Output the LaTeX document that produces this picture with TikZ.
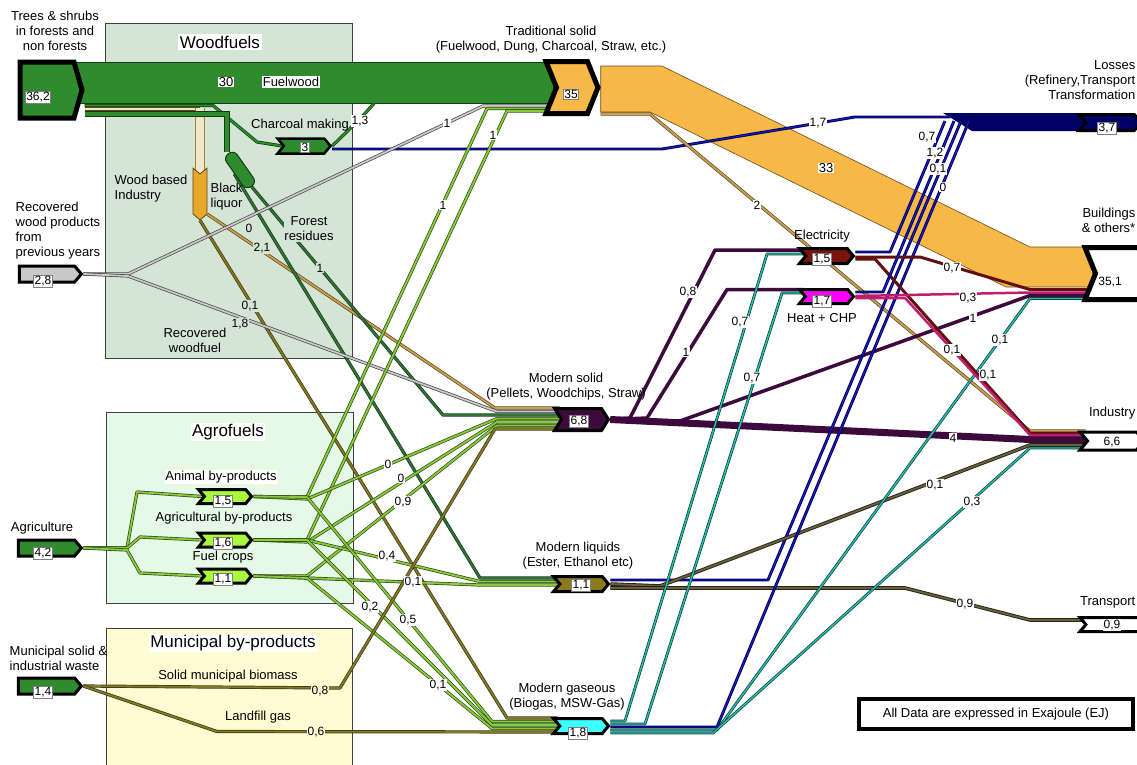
\documentclass[tikz,border=0pt]{standalone}
\usepackage{fontspec}
\setmainfont{Liberation Sans}
\usetikzlibrary{shapes.symbols,calc}
\pgfdeclarelayer{boxes}
\pgfdeclarelayer{flows}
\pgfsetlayers{boxes,flows,main}
\definecolor{cWood}{RGB}{213,229,213}
\definecolor{cAgro}{RGB}{230,248,230}
\definecolor{cMuni}{RGB}{255,252,212}
\definecolor{cFw}{RGB}{46,139,46}
\definecolor{cFwD}{RGB}{15,60,15}
\definecolor{cOrng}{RGB}{248,184,72}
\definecolor{cOrngD}{RGB}{110,75,25}
\definecolor{cLime}{RGB}{140,200,60}
\definecolor{cLimeD}{RGB}{40,80,20}
\definecolor{cLimeB}{RGB}{170,250,60}
\definecolor{cTan}{RGB}{200,160,80}
\definecolor{cTanD}{RGB}{90,70,30}
\definecolor{cTanL}{RGB}{240,232,200}
\definecolor{cWoodInd}{RGB}{232,168,40}
\definecolor{cGry}{RGB}{200,200,200}
\definecolor{cGryD}{RGB}{70,70,70}
\definecolor{cDkG}{RGB}{50,115,55}
\definecolor{cDkGD}{RGB}{20,55,25}
\definecolor{cOlv}{RGB}{130,120,40}
\definecolor{cOlvD}{RGB}{60,55,15}
\definecolor{cLiq}{RGB}{105,95,65}
\definecolor{cLiqD}{RGB}{40,35,20}
\definecolor{cLiqN}{RGB}{140,120,30}
\definecolor{cPurp}{RGB}{60,10,60}
\definecolor{cNavy}{RGB}{0,0,100}
\definecolor{cBlue}{RGB}{30,30,190}
\definecolor{cTeal}{RGB}{40,190,170}
\definecolor{cTealD}{RGB}{10,60,60}
\definecolor{cRed}{RGB}{100,15,15}
\definecolor{cElec}{RGB}{120,20,10}
\definecolor{cMag}{RGB}{190,30,110}
\definecolor{cHeat}{RGB}{255,0,255}
\definecolor{cCyan}{RGB}{60,255,255}
\newcommand\fsL{\fontsize{13}{15}\selectfont}
\newcommand\fsV{\fontsize{12}{13}\selectfont}
\newcommand\fsT{\fontsize{17}{19}\selectfont}
\tikzset{
  grpbox/.style={draw=black!75, line width=0.8pt, inner sep=0pt},
  grptitle/.style={fill=white, inner sep=1.5pt, font=\fsT},
  chev/.style={signal, signal to=east, signal from=west, signal pointer angle=100, draw=black, line width=3pt, inner sep=0pt},
  val/.style={fill=white, inner sep=0.8pt, font=\fsV},
  nval/.style={fill=white, draw=black!50, line width=0.4pt, inner sep=1pt, font=\fsV},
  lbl/.style={inner sep=0.5pt, align=center, font=\fsL},
  dbl/.style 2 args={draw=#2, double=#1, double distance=1.8pt, line width=0.7pt, line join=round},
  bl/.style={draw=cNavy, double=cBlue, double distance=0.9pt, line width=1pt, line join=round},
  tl/.style={draw=cTealD, double=cTeal, double distance=1.4pt, line width=0.7pt, line join=round},
  pl/.style={draw=cPurp, line width=3.5pt, line join=round},
  rl/.style={draw=cRed, line width=3pt, line join=round},
  ml/.style={draw=cMag, line width=2.5pt, line join=round},
}
\begin{document}
\begin{tikzpicture}[x=1pt,y=-1pt]
\useasboundingbox (0,0) rectangle (1137,764);
\begin{pgfonlayer}{boxes}
\fill[white] (0,0) rectangle (1137,764);
\node[grpbox, fill=cWood, minimum width=247, minimum height=335] (woodbox) at (228.5,190.5) {};
\node[grpbox, fill=cAgro, minimum width=247, minimum height=191] (agrobox) at (229.5,507.5) {};
\node[grpbox, fill=cMuni, minimum width=246, minimum height=150] (munibox) at (229,703) {};
\end{pgfonlayer}

% ---------- nodes ----------
\node[chev, signal from=nowhere, signal pointer angle=148, line width=5pt, fill=cFw, minimum width=62, minimum height=56] (trees) at (47,90) {};
\node[chev, signal pointer angle=136, line width=5pt, fill=cOrng, minimum width=52, minimum height=52] (trad) at (572,87.5) {};
\node[chev, line width=2.5pt, fill=cFw, minimum width=53, minimum height=15] (char) at (304,146) {};
\node[chev, signal from=nowhere, fill=cGry, minimum width=62, minimum height=16] (recw) at (47,274) {};
\node[signal, signal to=south, signal from=north, signal pointer angle=100, draw=cTanD, line width=0.8pt, fill=cWoodInd, minimum width=14, minimum height=40, inner sep=0pt] (wind) at (200,194) {};
\node[draw=cFwD, fill=cFw, line width=1pt, rounded corners=6pt, minimum width=40, minimum height=13, inner sep=0pt, rotate=-55] (bliq) at (240,170) {};
\node[chev, signal from=nowhere, fill=cFw, minimum width=63, minimum height=16] (agr) at (46.5,548) {};
\node[chev, signal from=nowhere, fill=cFw, minimum width=63, minimum height=16] (mun) at (46.5,686) {};
\node[chev, fill=cLimeB, minimum width=53, minimum height=14] (anim) at (225,496.5) {};
\node[chev, fill=cLimeB, minimum width=53, minimum height=14] (agbp) at (225,540) {};
\node[chev, fill=cLimeB, minimum width=53, minimum height=14] (fcrop) at (225,576) {};
\node[chev, signal pointer angle=115, fill=cPurp, minimum width=54, minimum height=22] (msol) at (581.5,419.5) {};
\node[chev, fill=cLiqN, minimum width=55, minimum height=15] (mliq) at (581,584) {};
\node[chev, fill=cCyan, minimum width=55, minimum height=15] (mgas) at (581,726) {};
\node[chev, fill=cElec, minimum width=54, minimum height=15] (elec) at (826.5,256) {};
\node[chev, fill=cHeat, minimum width=54, minimum height=14] (heat) at (826.5,296.5) {};
\node[chev, fill=cNavy, minimum width=62, minimum height=16] (loss) at (1110,122.5) {};
\node[chev, signal pointer angle=136, line width=5pt, fill=white, minimum width=64, minimum height=52] (bld) at (1117,273.5) {};
\node[chev, fill=white, minimum width=64, minimum height=18] (ind) at (1112,441) {};
\node[chev, fill=white, minimum width=64, minimum height=14] (trans) at (1112,624.5) {};

% node values
\node[nval] (v1) at (38,97) {36,2};
\node[nval] (v2) at (571,94) {35};
\node[nval] (v3) at (305,147) {3};
\node[nval] (v4) at (43,281) {2,8};
\node[nval] (v5) at (43,553) {4,2};
\node[nval] (v6) at (43,692) {1,4};
\node[nval] (v7) at (223,501) {1,5};
\node[nval] (v8) at (223,543) {1,6};
\node[nval] (v9) at (223,579) {1,1};
\node[nval] (v10) at (579,421) {6,8};
\node[nval] (v11) at (581,585) {1,1};
\node[nval] (v12) at (578,733) {1,8};
\node[nval] (v13) at (822,259) {1,5};
\node[nval] (v14) at (822,301) {1,7};
\node[nval] (v15) at (1107,128) {3,7};
\node[val, fill=none] (v16) at (1110,282) {35,1};
\node[val] (v17) at (1112,442) {6,6};
\node[val] (v18) at (1112,625) {0,9};

% ---------- flows ----------
\begin{pgfonlayer}{flows}
% fuelwood band
\filldraw[fill=cFw, draw=cFwD, line width=0.8pt] (trees.north east |- 0,62) -- (trad.west |- 0,62) -- (trad.west |- 0,103) -- (trees.north east |- 0,103) -- cycle;
% orange band to buildings
\filldraw[fill=cOrng, draw=cOrngD, line width=0.6pt] (trad.east |- 0,66) -- (662,66) -- (1030,247) -- (bld.west |- 0,247) -- (bld.west |- 0,287) -- (1006,287) -- (650,112) -- (trad.east |- 0,112) -- cycle;
% losses band
\fill[cNavy] (943,113) -- (loss.west |- 0,113) -- (loss.west |- 0,131) -- (972,131) -- cycle;
% feeds from trees
\draw[dbl={cFw}{cFwD}] (trees.east |- 0,105.5) -- (213,105.5) -- (257,142) -- (char.west);
\draw[draw=cTanD, double=cTanL, double distance=2pt, line width=1pt] (trees.east |- 0,109) -- (200,109);
\draw[draw=cTan!80!black, double=cTanL, double distance=8pt, line width=1.3pt] (200,108) -- (wind.north);
\draw[draw=cFwD, double=cFw, double distance=4pt, line width=0.8pt] (trees.east |- 0,114) -- (227,114) -- (227,152);
% charcoal outputs
\draw[dbl={cFw}{cFwD}] (char.east) -- (360,119) -- (374,103.5);
\draw[bl] (char.east |- 0,149) -- (662,149) -- (855,117) -- (950,117);
% wood based industry outputs
\draw[dbl={cTan}{cTanD}] (wind.south east) -- (495,408) -- (msol.west |- 0,408);
\draw[dbl={cOlv}{cOlvD}] (wind.south) -- (507,718) -- (mgas.west |- 0,718);
% black liquor / forest residues
\draw[dbl={cDkG}{cDkGD}] (bliq.south) -- (480,578) -- (mliq.west |- 0,578);
\draw[dbl={cDkG}{cDkGD}] (bliq.east) -- (443,415) -- (msol.west |- 0,415);
% recovered wood
\draw[dbl={cGry}{cGryD}] (recw.east) -- (128,274) -- (483,106) -- (trad.west |- 0,106);
\draw[dbl={cGry}{cGryD}] (recw.east) -- (128,276) -- (497,411.5) -- (msol.west |- 0,411.5);
% agriculture
\draw[dbl={cLime}{cLimeD}] (agr.east) -- (127,548) -- (137,492) -- (anim.west);
\draw[dbl={cLime}{cLimeD}] (agr.east) -- (127,548) -- (140,537) -- (agbp.west);
\draw[dbl={cLime}{cLimeD}] (agr.east) -- (127,550) -- (140,573) -- (fcrop.west);
% agro outputs
\draw[dbl={cLime}{cLimeD}] (anim.east) -- (307,497) -- (487,108.5) -- (trad.west |- 0,108.5);
\draw[dbl={cLime}{cLimeD}] (agbp.east) -- (307,540) -- (507,111) -- (trad.west |- 0,111);
\draw[dbl={cLime}{cLimeD}] (anim.east) -- (307,499) -- (497,418.5) -- (msol.west |- 0,418.5);
\draw[dbl={cLime}{cLimeD}] (agbp.east) -- (307,542) -- (497,422) -- (msol.west |- 0,422);
\draw[dbl={cLime}{cLimeD}] (fcrop.east) -- (307,576) -- (497,425.5) -- (msol.west |- 0,425.5);
\draw[dbl={cLime}{cLimeD}] (agbp.east) -- (307,540) -- (480,581.5) -- (mliq.west |- 0,581.5);
\draw[dbl={cLime}{cLimeD}] (fcrop.east) -- (307,578) -- (480,585) -- (mliq.west |- 0,585);
\draw[dbl={cLime}{cLimeD}] (anim.east) -- (307,497) -- (492,721.5) -- (mgas.west |- 0,721.5);
\draw[dbl={cLime}{cLimeD}] (agbp.east) -- (307,540) -- (492,725) -- (mgas.west |- 0,725);
\draw[dbl={cLime}{cLimeD}] (fcrop.east) -- (307,578) -- (492,728.5) -- (mgas.west |- 0,728.5);
% municipal
\draw[dbl={cOlv}{cOlvD}] (mun.east) -- (340,688) -- (495,429) -- (msol.west |- 0,429);
\draw[dbl={cOlv}{cOlvD}] (mun.east) -- (217,731.5) -- (mgas.west |- 0,732);
% traditional -> industry
\draw[dbl={cTan}{cTanD}] (trad.east |- 0,114) -- (650,114) -- (1030,431) -- (ind.west |- 0,431);
% modern solid outputs
\draw[pl, line width=7pt] (msol.east) -- (1030,439.5) -- (ind.west |- 0,439.5);
\draw[pl] (msol.east) -- (630,418) -- (715,250) -- (elec.west |- 0,250);
\draw[pl] (msol.east) -- (647,418) -- (727,289.5) -- (heat.west |- 0,289.5);
\draw[pl] (msol.east) -- (680,421) -- (1030,295.5) -- (bld.west |- 0,295.5);
% modern liquids outputs
\draw[bl] (mliq.east |- 0,580) -- (768,580) -- (961,121);
\draw[draw=cLiqD, double=cLiq, double distance=1.8pt, line width=0.9pt] (mliq.east) -- (660,586) -- (1030,445) -- (ind.west |- 0,445);
\draw[draw=cLiqD, double=cLiq, double distance=1.8pt, line width=0.9pt] (mliq.east |- 0,588) -- (905,588) -- (1030,620) -- (trans.west |- 0,620);
% modern gaseous outputs
\draw[tl] (mgas.east |- 0,721) -- (625,721) -- (767,254) -- (elec.west |- 0,254);
\draw[tl] (mgas.east |- 0,724) -- (645,724) -- (782,293) -- (heat.west |- 0,293);
\draw[bl] (mgas.east |- 0,727) -- (717,727) -- (969,121);
\draw[tl] (mgas.east |- 0,730) -- (717,730) -- (1030,298.5) -- (bld.west |- 0,298.5);
\draw[tl] (mgas.east |- 0,733) -- (713,733) -- (1030,448) -- (ind.west |- 0,448);
% electricity outputs
\draw[bl] (elec.east |- 0,252) -- (890,252) -- (945,121);
\draw[rl] (elec.east |- 0,257) -- (920,257) -- (1030,289.5) -- (bld.west |- 0,289.5);
\draw[rl] (elec.east |- 0,259) -- (875,259) -- (1030,433) -- (ind.west |- 0,433);
% heat outputs
\draw[bl] (heat.east |- 0,292) -- (883,292) -- (954,121);
\draw[ml] (heat.east |- 0,296) -- (1030,292.5) -- (bld.west |- 0,292.5);
\draw[ml] (heat.east |- 0,298) -- (905,298) -- (1030,435) -- (ind.west |- 0,435);
\end{pgfonlayer}

% ---------- group titles ----------
\node[grptitle] (t1) at (220,42) {Woodfuels};
\node[grptitle] (t2) at (228,432) {Agrofuels};
\node[grptitle] (t3) at (233,643) {Municipal by-products};
\node[val, font=\fsL] (fwv) at (226,82) {30};
\node[val, font=\fsL] (fwl) at (291,82) {Fuelwood};
\node[val, font=\fsL] (obv) at (826,168) {33};

% ---------- labels ----------
\node[lbl] (L1) at (55,30.5) {Trees \& shrubs\\in forests and\\non forests};
\node[lbl] (L2) at (551,40) {Traditional solid\\(Fuelwood, Dung, Charcoal, Straw, etc.)};
\node[lbl, align=right, anchor=north east] (L3) at (1136,60) {Losses\\(Refinery,Transport\\Transformation};
\node[lbl, align=right, anchor=north east] (L4) at (1136,207) {Buildings\\\& others*};
\node[lbl] (L5) at (822,236) {Electricity};
\node[lbl] (L6) at (822,318) {Heat + CHP};
\node[lbl] (L7) at (566,387) {Modern solid\\(Pellets, Woodchips, Straw)};
\node[lbl, anchor=east] (L8) at (1136,413) {Industry};
\node[lbl] (L9) at (578,556) {Modern liquids\\(Ester, Ethanol etc)};
\node[lbl, anchor=east] (L10) at (1136,602) {Transport};
\node[lbl] (L11) at (567,697) {Modern gaseous\\(Biogas, MSW-Gas)};
\node[lbl] (L12) at (300,125) {Charcoal making};
\node[lbl, align=left, anchor=west] (L13) at (114,189) {Wood based\\Industry};
\node[lbl, align=left, anchor=west] (L14) at (210,197) {Black\\liquor};
\node[lbl, fill=cWood] (L15) at (309,229) {Forest\\residues};
\node[lbl, align=left, anchor=west] (L16) at (15,231) {Recovered\\wood products\\from\\previous years};
\node[lbl] (L17) at (195,340) {Recovered\\woodfuel};
\node[lbl] (L18) at (42,528) {Agriculture};
\node[lbl, fill=white] (L19) at (221,477) {Animal by-products};
\node[lbl] (L20) at (224,518) {Agricultural by-products};
\node[lbl] (L21) at (223,557) {Fuel crops};
\node[lbl, align=left, anchor=west] (L22) at (9,658) {Municipal solid \&\\industrial waste};
\node[lbl] (L23) at (228,676) {Solid municipal biomass};
\node[lbl] (L24) at (258,717) {Landfill gas};
\node[draw=black, line width=4pt, minimum width=274, minimum height=30, inner sep=0pt, font=\fsL] (legend) at (996,714) {All Data are expressed in Exajoule (EJ)};

% ---------- flow values ----------
\node[val, fill=cWood] at (249,228) {0};
\node[val, fill=cWood] at (262,248) {2,1};
\node[val, fill=cWood] at (320,268) {1};
\node[val, fill=cWood] at (250,306) {0,1};
\node[val, fill=cWood] at (240,324) {1,8};
\node[val] at (360,121) {1,3};
\node[val] at (447,123) {1};
\node[val] at (493,135) {1};
\node[val] at (443,205) {1};
\node[val] at (818,123) {1,7};
\node[val] at (927,137) {0,7};
\node[val] at (935,153) {1,2};
\node[val] at (938,169) {0,1};
\node[val] at (943,187) {0};
\node[val] at (757,205) {2};
\node[val] at (952,268) {0,7};
\node[val] at (968,298) {0,3};
\node[val] at (973,318) {1};
\node[val] at (688,292) {0,8};
\node[val] at (686,352) {1};
\node[val] at (740,322) {0,7};
\node[val] at (752,378) {0,7};
\node[val] at (1000,340) {0,1};
\node[val] at (952,350) {0,1};
\node[val] at (988,375) {0,1};
\node[val] at (953,438) {4};
\node[val] at (935,485) {0,1};
\node[val] at (972,502) {0,3};
\node[val] at (965,604) {0,9};
\node[val] at (388,464) {0};
\node[val] at (401,478) {0};
\node[val] at (403,502) {0,9};
\node[val] at (387,556) {0,4};
\node[val] at (413,582) {0,1};
\node[val] at (370,607) {0,2};
\node[val] at (408,620) {0,5};
\node[val] at (438,685) {0,1};
\node[val, fill=cMuni] at (320,691) {0,8};
\node[val, fill=cMuni] at (316,732) {0,6};
\end{tikzpicture}
\end{document}
